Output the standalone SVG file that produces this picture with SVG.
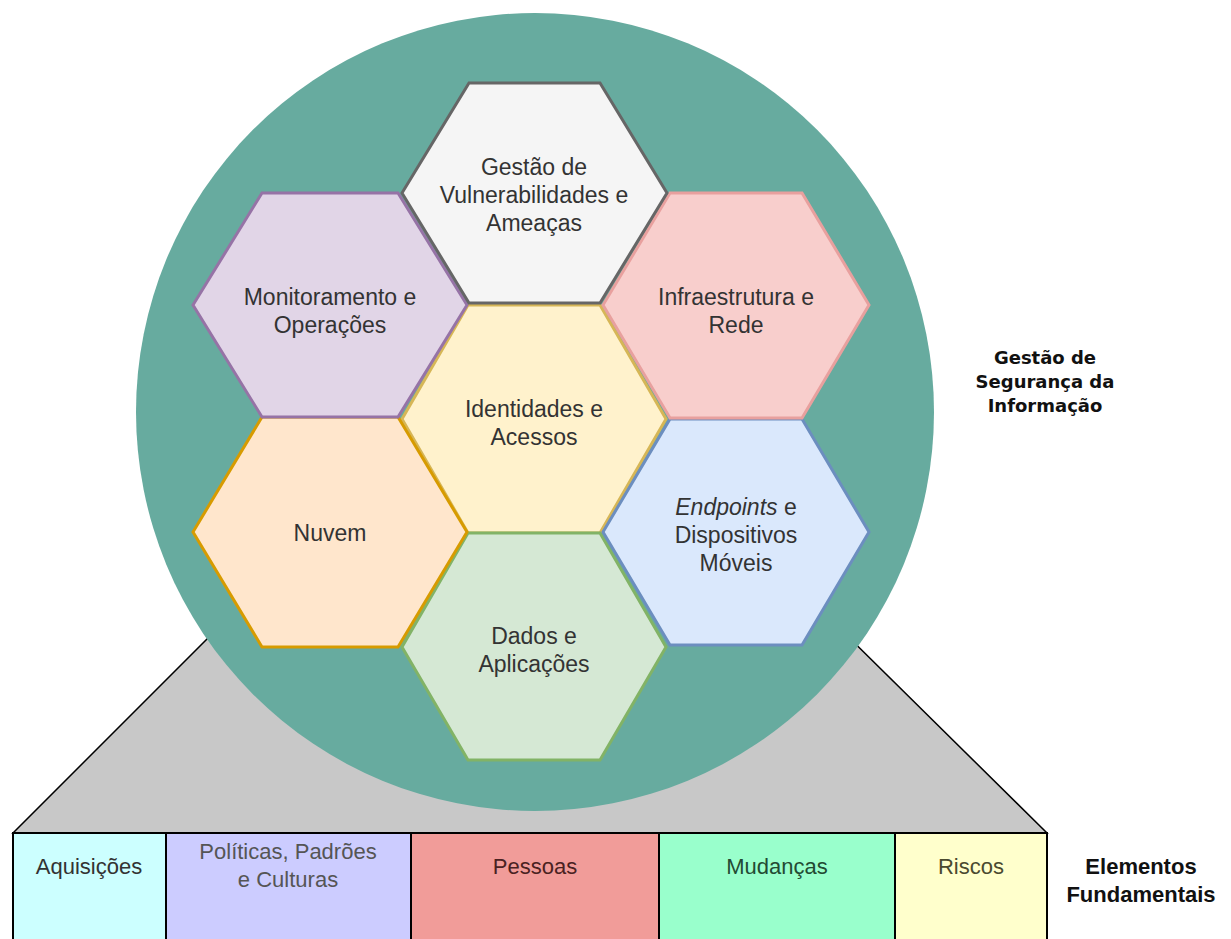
<svg xmlns="http://www.w3.org/2000/svg" width="1231" height="939" viewBox="0 0 1231 939">
<style>
.hx{stroke-width:3;stroke-linejoin:miter}
.ht{font-family:"Liberation Sans",Arial,sans-serif;font-size:23px;fill:#333333;text-anchor:middle}
.bx{stroke:#000;stroke-width:2}
.bt{font-family:"Liberation Sans",Arial,sans-serif;font-size:22px;text-anchor:middle}
.lb{font-family:"DejaVu Sans",Verdana,sans-serif;font-weight:bold;font-size:18px;fill:#111;text-anchor:middle}
.lb2{font-family:"Liberation Sans",Arial,sans-serif;font-weight:bold;font-size:22px;fill:#111;text-anchor:middle}
</style>
<rect x="0" y="0" width="1231" height="939" fill="#ffffff"/>
<g id="base">
<polygon points="246,600 811,600 1047,833 13,833" fill="#c8c8c8" stroke="#000" stroke-width="1.5"/>
</g>
<g id="circle">
<circle cx="535" cy="412" r="399" fill="#67AB9F"/>
</g>
<g id="identidades">
<polygon class="hx" points="402,419 468,305 600,305 666,419 600,533 468,533" fill="#fff2cc" stroke="#d6b656"/>
<text class="ht" x="534" y="417">Identidades e<tspan x="534" y="445">Acessos</tspan></text>
</g>
<g id="dados">
<polygon class="hx" points="402,647 468,533 600,533 666,647 600,760 468,760" fill="#d5e8d4" stroke="#82b366"/>
<text class="ht" x="534" y="644">Dados e<tspan x="534" y="672">Aplicações</tspan></text>
</g>
<g id="nuvem">
<polygon class="hx" points="193,532 262,417 398,417 467,532 398,647 262,647" fill="#ffe6cc" stroke="#d79b00"/>
<text class="ht" x="330" y="541">Nuvem</text>
</g>
<g id="endpoints">
<polygon class="hx" points="603,532 670,419 802,419 869,532 802,645 670,645" fill="#dae8fc" stroke="#6c8ebf"/>
<text class="ht" x="736" y="515"><tspan font-style="italic">Endpoints</tspan> e<tspan x="736" y="543">Dispositivos</tspan><tspan x="736" y="571">Móveis</tspan></text>
</g>
<g id="monitoramento">
<polygon class="hx" points="193,305 262,193 398,193 467,305 398,417 262,417" fill="#e1d5e7" stroke="#9673a6"/>
<text class="ht" x="330" y="305">Monitoramento e<tspan x="330" y="333">Operações</tspan></text>
</g>
<g id="infraestrutura">
<polygon class="hx" points="603,305 670,193 802,193 869,305 802,418 670,418" fill="#f8cecc" stroke="#e8a09e"/>
<text class="ht" x="736" y="305">Infraestrutura e<tspan x="736" y="333">Rede</tspan></text>
</g>
<g id="gestao-vuln">
<polygon class="hx" points="402,193 469,83 600,83 667,193 600,303 469,303" fill="#f5f5f5" stroke="#666666"/>
<text class="ht" x="534" y="175">Gestão de<tspan x="534" y="203">Vulnerabilidades e</tspan><tspan x="534" y="231">Ameaças</tspan></text>
</g>
<g id="aquisicoes">
<rect class="bx" x="13" y="833" width="153" height="120" fill="#ccffff"/>
<text class="bt" x="89" y="874" fill="#333">Aquisições</text>
</g>
<g id="politicas">
<rect class="bx" x="166" y="833" width="245" height="120" fill="#ccccff"/>
<text class="bt" x="288" y="859" fill="#555">Políticas, Padrões<tspan x="288" y="887">e Culturas</tspan></text>
</g>
<g id="pessoas">
<rect class="bx" x="411" y="833" width="248" height="120" fill="#f19c99"/>
<text class="bt" x="535" y="874" fill="#4a2222">Pessoas</text>
</g>
<g id="mudancas">
<rect class="bx" x="659" y="833" width="236" height="120" fill="#99ffcc"/>
<text class="bt" x="777" y="874" fill="#234a33">Mudanças</text>
</g>
<g id="riscos">
<rect class="bx" x="895" y="833" width="152" height="120" fill="#ffffcc"/>
<text class="bt" x="971" y="874" fill="#4a4a30">Riscos</text>
</g>
<g id="label-gestao">
<text class="lb" x="1045" y="364">Gestão de<tspan x="1045" y="388">Segurança da</tspan><tspan x="1045" y="412">Informação</tspan></text>
</g>
<g id="label-elementos">
<text class="lb2" x="1141" y="874">Elementos<tspan x="1141" y="902">Fundamentais</tspan></text>
</g>
<g id="connectors"></g>
</svg>
